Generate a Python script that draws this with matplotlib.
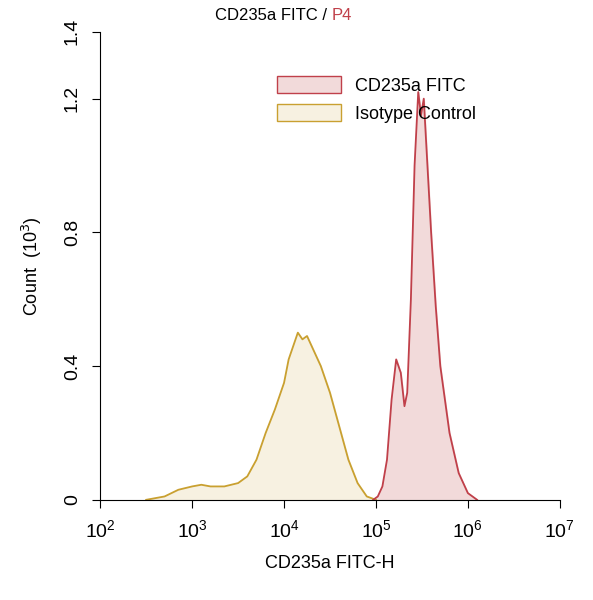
import matplotlib
matplotlib.use("Agg")
import matplotlib.pyplot as plt
import matplotlib.patches as mp
import numpy as np
plt.rcParams['font.family'] = ['Liberation Sans', 'DejaVu Sans']

iso_logx = [2.5,2.7,2.85,3.0,3.1,3.2,3.35,3.5,3.6,3.7,3.8,3.9,4.0,4.05,4.1,4.15,4.2,4.25,4.3,4.4,4.5,4.6,4.7,4.8,4.9,5.0]
iso_y    = [0.0,0.01,0.03,0.04,0.045,0.04,0.04,0.05,0.07,0.12,0.2,0.27,0.35,0.42,0.46,0.5,0.48,0.49,0.46,0.4,0.32,0.22,0.12,0.05,0.01,0.0]
cd_logx = [4.97,5.02,5.07,5.12,5.17,5.22,5.27,5.31,5.34,5.38,5.42,5.46,5.49,5.52,5.56,5.6,5.65,5.7,5.8,5.9,6.0,6.1]
cd_y    = [0.0,0.01,0.04,0.12,0.3,0.42,0.38,0.28,0.32,0.6,1.0,1.22,1.15,1.2,1.0,0.8,0.58,0.4,0.2,0.08,0.02,0.0]

fig = plt.figure(figsize=(5.93,6.0), dpi=100)
ax = fig.add_axes([0.169,0.167,0.775,0.78])
ix = 10**np.array(iso_logx); cx = 10**np.array(cd_logx)
ax.fill_between(ix, iso_y, color='#f7f1e1')
ax.plot(ix, iso_y, color='#c9a030', lw=1.3)
ax.fill_between(cx, cd_y, color='#f2dada')
ax.plot(cx, cd_y, color='#c0404a', lw=1.3)
ax.set_xscale('log')
ax.set_xlim(1e2,1e7); ax.set_ylim(0,1.4)
ax.set_xticks([1e2,1e3,1e4,1e5,1e6,1e7])
ax.minorticks_off()
ax.set_yticks([0,0.4,0.8,1.2,1.4])
ax.set_yticklabels(['0','0.4','0.8','1.2','1.4'], rotation=90, va='center')
ax.tick_params(labelsize=14, pad=8, length=6)
for s in ['top','right']: ax.spines[s].set_visible(False)
ax.set_xlabel('CD235a FITC-H', fontsize=13, labelpad=10)
ax.set_ylabel('Count  (10$^3$)', fontsize=13, labelpad=14)
hs=[mp.Patch(facecolor='#f2dada',edgecolor='#c0404a'),mp.Patch(facecolor='#f7f1e1',edgecolor='#c9a030')]
ax.legend(hs,['CD235a FITC','Isotype Control'],loc='upper left',bbox_to_anchor=(0.35,0.94),frameon=False,fontsize=13,handlelength=3.5,handleheight=1.1)
fig.text(0.56,0.975,'CD235a FITC / ',ha='right',va='center',fontsize=12)
fig.text(0.56,0.975,'P4',ha='left',va='center',fontsize=12,color='#c0404a')
fig.savefig('out.png')
